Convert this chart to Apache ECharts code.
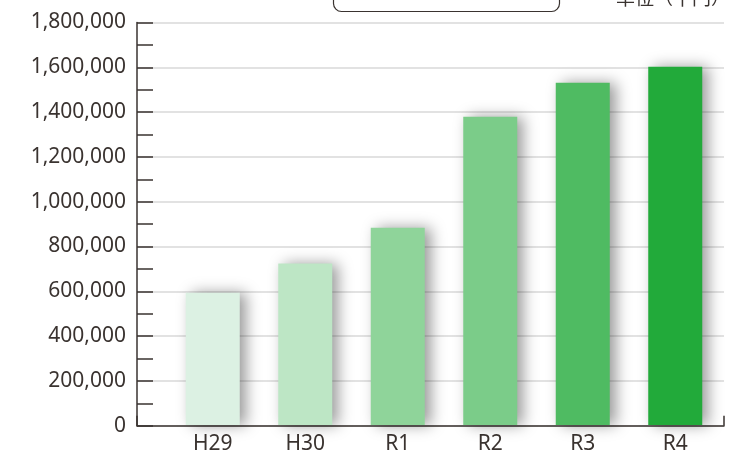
<!DOCTYPE html>
<html><head><meta charset="utf-8">
<script src="https://cdn.jsdelivr.net/npm/echarts@6/dist/echarts.min.js"></script>
<style>html,body{margin:0;padding:0;background:#fff}#c{width:743px;height:455px}</style>
</head><body><div id="c"></div>
<script>
const categories = ['H29', 'H30', 'R1', 'R2', 'R3', 'R4'];
const values = [591000, 722000, 882000, 1379000, 1531000, 1602000];
const barColors = ['#dcf1e3', '#bde6c5', '#8fd49a', '#7bcc89', '#4fbb62', '#22aa3a'];
const yMax = 1800000;
const yStep = 200000;
const unitLabel = '単位（千円）';

const chart = echarts.init(document.getElementById('c'));
const txt = '#3a3330';
const font = '"Noto Sans", "Open Sans", sans-serif';
chart.setOption({
  animation: false,
  grid: [
    {left: 137, right: 19, top: 22.5, bottom: 29.3},
    {left: 166.5, right: 21.5, top: 22.5, bottom: 29.3}
  ],
  xAxis: [
    {type: 'value', gridIndex: 0, min: 0, max: 1, interval: 1,
     axisLine: {show: true, lineStyle: {color: txt, width: 1.5}},
     axisTick: {show: true, inside: true, length: 10, lineStyle: {color: txt, width: 1.5}},
     axisLabel: {show: false}, splitLine: {show: false}},
    {type: 'category', gridIndex: 1, data: categories,
     axisLine: {show: false}, axisTick: {show: false},
     axisLabel: {color: txt, fontSize: 21, fontFamily: font, margin: 9}}
  ],
  yAxis: [
    {type: 'value', gridIndex: 0, min: 0, max: yMax, interval: yStep,
     axisLine: {show: true, lineStyle: {color: txt, width: 1.5}},
     axisTick: {show: true, inside: true, length: 16, lineStyle: {color: txt, width: 1.5}},
     minorTick: {show: true, splitNumber: 2, length: 16, lineStyle: {color: txt, width: 1.5}},
     axisLabel: {color: txt, fontSize: 21, fontFamily: font, margin: 11,
       formatter: v => v.toLocaleString('en-US')},
     splitLine: {show: true, lineStyle: {color: '#d9d9d9', width: 1.5}}},
    {type: 'value', gridIndex: 1, min: 0, max: yMax, interval: yStep, show: false,
     splitLine: {show: false}}
  ],
  series: [{
    type: 'bar', xAxisIndex: 1, yAxisIndex: 1, barWidth: 54,
    data: values.map((v, i) => ({value: v, itemStyle: {color: barColors[i]}})),
    itemStyle: {shadowBlur: 14, shadowOffsetX: 6, shadowOffsetY: 0, shadowColor: 'rgba(0,0,0,0.4)'}
  }],
  graphic: [
    {type: 'rect', left: 331, top: -30, shape: {width: 226, height: 39, r: 8},
     style: {fill: 'none', stroke: '#3a3330', lineWidth: 1.2}},
    {type: 'text', left: 616, top: -12,
     style: {text: unitLabel, fill: txt, fontSize: 19, fontFamily: '"Noto Sans CJK JP", sans-serif'}}
  ]
});
</script></body></html>
